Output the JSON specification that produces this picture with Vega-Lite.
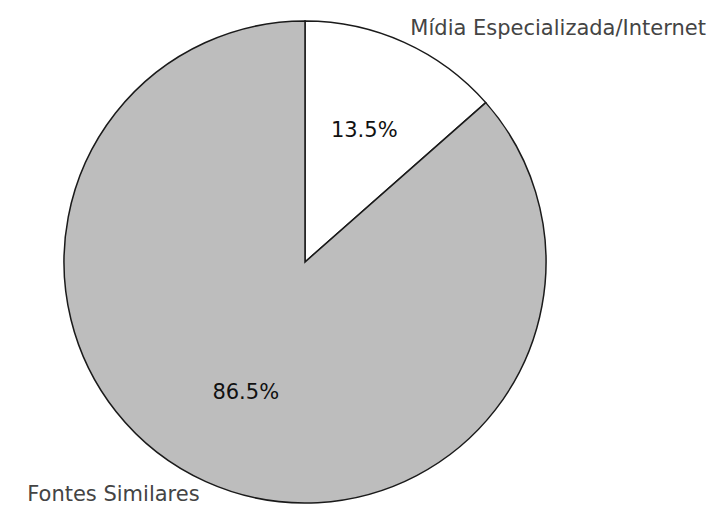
{
  "$schema": "https://vega.github.io/schema/vega-lite/v6.json",
  "width": 610,
  "height": 486,
  "autosize": {"type": "none"},
  "padding": {"left": 0, "top": 19, "right": 111, "bottom": 0},
  "background": "white",
  "data": {
    "values": [
      {"category": "Mídia Especializada/Internet", "share": 13.5, "label": "13.5%", "order": 1},
      {"category": "Fontes Similares", "share": 86.5, "label": "86.5%", "order": 2}
    ]
  },
  "encoding": {
    "theta": {"field": "share", "type": "quantitative", "stack": true},
    "order": {"field": "order", "type": "ordinal"}
  },
  "layer": [
    {
      "mark": {"type": "arc", "outerRadius": 241, "stroke": "#1a1a1a", "strokeWidth": 1.5},
      "encoding": {
        "color": {
          "field": "category",
          "type": "nominal",
          "scale": {"domain": ["Mídia Especializada/Internet", "Fontes Similares"], "range": ["#ffffff", "#bdbdbd"]},
          "legend": null
        }
      }
    },
    {
      "mark": {"type": "text", "radius": 144, "fontSize": 21, "font": "DejaVu Sans", "color": "#111111", "baseline": "middle", "align": "center"},
      "encoding": {"text": {"field": "label", "type": "nominal"}}
    },
    {
      "mark": {
        "type": "text",
        "radius": 256,
        "fontSize": 21,
        "font": "DejaVu Sans",
        "color": "#444444",
        "baseline": "middle",
        "align": {"expr": "datum.category === 'Fontes Similares' ? 'right' : 'left'"}
      },
      "encoding": {"text": {"field": "category", "type": "nominal"}}
    }
  ],
  "config": {"view": {"stroke": null}}
}
